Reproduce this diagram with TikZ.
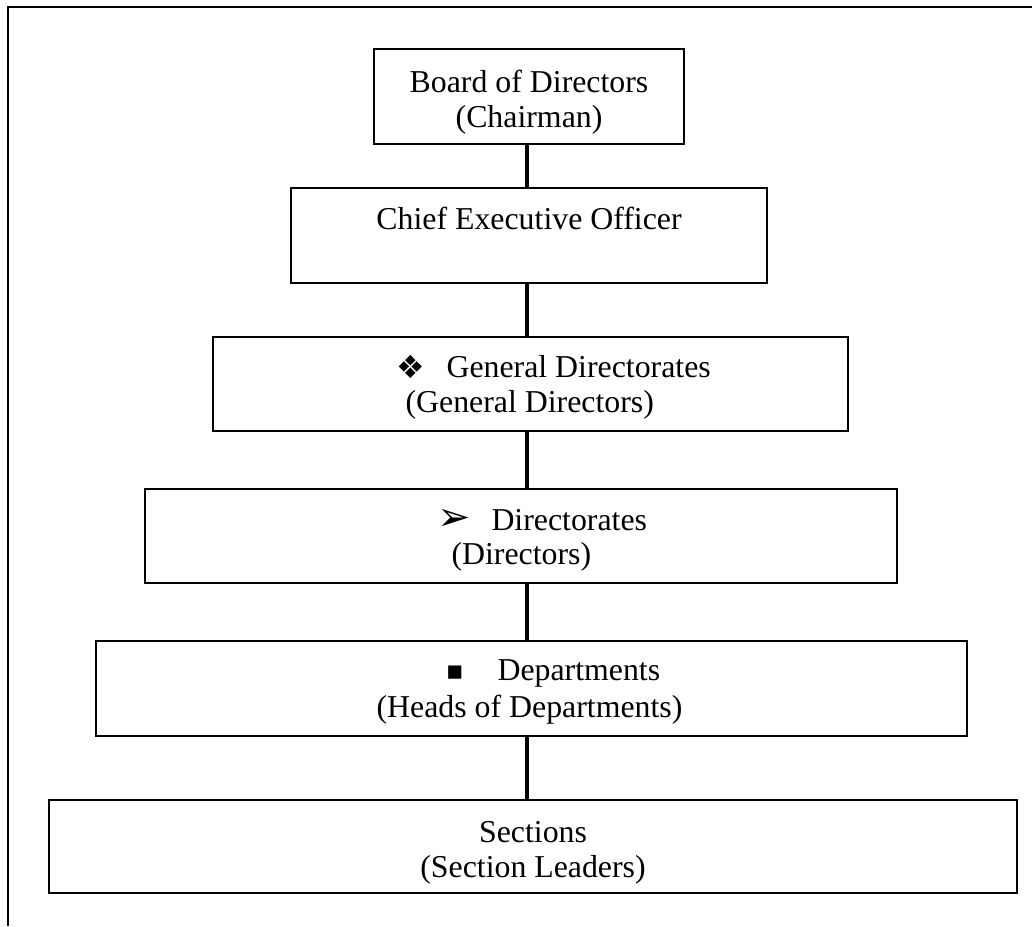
\documentclass[tikz,border=0pt]{standalone}
\usepackage{fontspec}
\setmainfont{Liberation Serif}
\newfontfamily\dingfont{DejaVu Sans}
\usepackage{tikz}

\tikzset{
  orgbox/.style={draw, line width=0.9pt, inner sep=0pt, align=center, font=\fontsize{12}{13.2}\selectfont},
  orgtext/.style={inner sep=0pt, anchor=west, font=\fontsize{12}{13.2}\selectfont},
  orgmark/.style={inner sep=0pt, font=\dingfont},
  orgline/.style={line width=1.3pt}
}
\newcommand{\tallline}{\rule{0pt}{12.7pt}}

\begin{document}
\begin{tikzpicture}

\useasboundingbox (0,0) rectangle (13.673,-12.269);

% frame, only top and left side
\coordinate (frametr) at (13.673,-0.093);
\coordinate (frametl) at (0.106,-0.093);
\coordinate (framebl) at (0.106,-12.269);
\draw[line width=0.75pt] (frametr) -- (frametl) -- (framebl);

% boxes
\node [orgbox, minimum width=4.107cm, minimum height=1.259cm] (board) at (7.009,-1.279) {\tallline Board of Directors\\(Chairman)};
\node [orgbox, minimum width=6.307cm, minimum height=1.259cm] (ceo) at (7.009,-3.120) {Chief Executive Officer\\\mbox{}};
\node [orgbox, minimum width=8.413cm, minimum height=1.245cm] (gendir) at (7.029,-5.088) {};
\node [orgbox, minimum width=9.963cm, minimum height=1.245cm] (dir) at (6.903,-7.101) {};
\node [orgbox, minimum width=11.540cm, minimum height=1.259cm] (dept) at (7.042,-9.122) {};
\node [orgbox, minimum width=12.825cm, minimum height=1.232cm] (sect) at (7.062,-11.215) {\tallline Sections\\(Section Leaders)};

% texts in the middle boxes
\node [orgmark, font=\dingfont\fontsize{12}{12}\selectfont] (gdmark) at (5.445,-4.862) {❖};
\node [orgtext] (gdname) at (5.909,-4.862) {General Directorates};
\node [orgtext] (gdhead) at (5.366,-5.366) {(General Directors)};

\node [orgmark, font=\dingfont\fontsize{15}{15}\selectfont] (dirmark) at (6.022,-6.889) {➢};
\node [orgtext] (dirname) at (6.505,-6.889) {Directorates};
\node [orgtext] (dirhead) at (5.975,-7.380) {(Directors)};

\node [orgmark, font=\dingfont\fontsize{10}{10}\selectfont] (deptmark) at (6.028,-8.917) {▪};
\node [orgtext] (deptname) at (6.585,-8.917) {Departments};
\node [orgtext] (depthead) at (4.982,-9.407) {(Heads of Departments)};

% vertical connectors
\coordinate (spine) at (6.982,0);
\draw[orgline] (spine |- board.south) -- (spine |- ceo.north);
\draw[orgline] (spine |- ceo.south) -- (spine |- gendir.north);
\draw[orgline] (spine |- gendir.south) -- (spine |- dir.north);
\draw[orgline] (spine |- dir.south) -- (spine |- dept.north);
\draw[orgline] (spine |- dept.south) -- (spine |- sect.north);

\end{tikzpicture}
\end{document}
